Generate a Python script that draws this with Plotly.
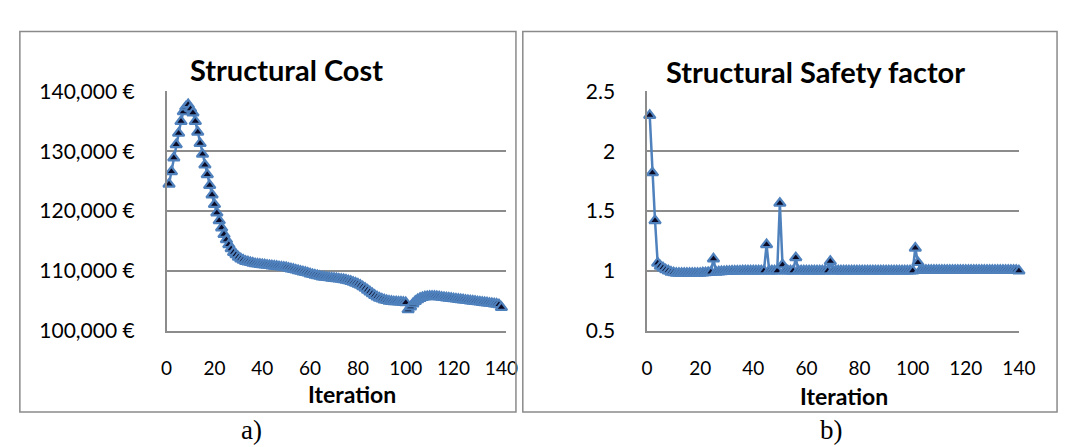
import plotly.graph_objects as go

iterations = list(range(1, 141))

cost = [
    124500, 126600, 128900, 131100, 133000, 135000, 136600, 137400, 137800, 137100,
    136400, 135000, 133200, 131300, 129500, 127700, 126100, 124300, 122700, 121100,
    119700, 118400, 117200, 116100, 115200, 114400, 113700, 113100, 112700, 112300,
    112000, 111800, 111600, 111500, 111400, 111300, 111200, 111150, 111100, 111050,
    111000, 110950, 110900, 110850, 110800, 110750, 110700, 110650, 110600, 110550,
    110450, 110350, 110250, 110150, 110050, 109950, 109850, 109750, 109650, 109500,
    109400, 109300, 109200, 109100, 109000, 108950, 108900, 108850, 108800, 108750,
    108700, 108650, 108600, 108550, 108450, 108350, 108250, 108100, 107950, 107800,
    107600, 107350, 107100, 106800, 106500, 106200, 105900, 105650, 105450, 105300,
    105150, 105050, 104950, 104900, 104850, 104850, 104800, 104800, 104750, 104700,
    103500, 104000, 104500, 104900, 105200, 105400, 105550, 105650, 105700, 105750,
    105750, 105750, 105700, 105650, 105600, 105550, 105500, 105450, 105400, 105350,
    105300, 105250, 105200, 105150, 105100, 105050, 105000, 104950, 104900, 104850,
    104800, 104750, 104700, 104650, 104600, 104550, 104500, 104450, 104350, 103900,
]

safety = [
    2.30, 1.82, 1.42, 1.065, 1.04, 1.025, 1.01, 1.0, 0.99, 0.985,
    0.98, 0.98, 0.98, 0.98, 0.98, 0.98, 0.98, 0.98, 0.98, 0.98,
    0.983, 0.985, 0.987, 0.99, 1.10, 0.99, 0.992, 0.994, 0.995, 0.996,
    0.997, 0.998, 0.998, 0.999, 0.999, 1.0, 1.0, 1.0, 1.0, 1.0,
    1.0, 1.0, 1.0, 1.0, 1.22, 1.0, 1.0, 1.0, 1.0, 1.565,
    1.05, 1.0, 1.0, 1.0, 1.0, 1.11, 1.0, 1.0, 1.0, 1.0,
    1.0, 1.0, 1.0, 1.0, 1.0, 1.0, 1.0, 1.0, 1.08, 1.0,
    1.0, 1.0, 1.0, 1.0, 1.0, 1.0, 1.0, 1.0, 1.0, 1.0,
    1.0, 1.0, 1.0, 1.0, 1.0, 1.0, 1.0, 1.0, 1.0, 1.0,
    1.0, 1.0, 1.0, 1.0, 1.0, 1.0, 1.0, 1.0, 1.0, 1.0,
    1.19, 1.07, 1.005, 1.005, 1.005, 1.005, 1.005, 1.005, 1.005, 1.005,
    1.005, 1.005, 1.005, 1.005, 1.005, 1.005, 1.005, 1.005, 1.005, 1.005,
    1.005, 1.005, 1.005, 1.005, 1.005, 1.005, 1.005, 1.005, 1.005, 1.005,
    1.005, 1.005, 1.005, 1.005, 1.005, 1.005, 1.005, 1.005, 1.005, 1.0,
]

x_ticks = [0, 20, 40, 60, 80, 100, 120, 140]
cost_ticks = [100000, 110000, 120000, 130000, 140000]
cost_tick_text = ["100,000 €", "110,000 €", "120,000 €", "130,000 €", "140,000 €"]
safety_ticks = [0.5, 1, 1.5, 2, 2.5]
safety_tick_text = ["0.5", "1", "1.5", "2", "2.5"]

W, H = 1068, 447
FONT = "Lato"
GRID = "#8c8c8c"
BLUE = "#4F81BD"

def px(x):
    return x / W

def py(y):
    return 1 - y / H

fig = go.Figure()

marker = dict(symbol="triangle-up", size=10, color="#0b0b26",
              line=dict(color=BLUE, width=2.2))

fig.add_trace(go.Scatter(x=iterations, y=cost, mode="lines+markers",
                         line=dict(color=BLUE, width=2.5), marker=marker,
                         xaxis="x", yaxis="y", cliponaxis=False, showlegend=False))
fig.add_trace(go.Scatter(x=iterations, y=safety, mode="lines+markers",
                         line=dict(color=BLUE, width=2.5), marker=marker,
                         xaxis="x2", yaxis="y2", cliponaxis=False, showlegend=False))

ydom = [py(327), py(73.5)]
common_x = dict(tickvals=x_ticks, showgrid=False, zeroline=False,
                showline=True, linecolor=GRID, linewidth=1.5, ticks="",
                tickfont=dict(family=FONT, size=19, color="black"),
                ticklabelstandoff=20)
common_y = dict(showgrid=True, gridcolor=GRID, gridwidth=1.5, zeroline=False,
                showline=True, linecolor=GRID, linewidth=1.5, ticks="",
                tickfont=dict(family=FONT, size=21, color="black"),
                ticklabelstandoff=26)

fig.update_layout(
    width=W, height=H,
    margin=dict(l=0, r=0, t=0, b=0),
    paper_bgcolor="white", plot_bgcolor="white",
    xaxis=dict(domain=[px(156), px(503)], anchor="y", range=[0, 142], **common_x),
    yaxis=dict(domain=ydom, anchor="x", range=[100000, 140000], tickvals=cost_ticks,
               ticktext=cost_tick_text, **common_y),
    xaxis2=dict(domain=[px(647), px(1027)], anchor="y2", range=[0, 140], **common_x),
    yaxis2=dict(domain=ydom, anchor="x2", range=[0.5, 2.5], tickvals=safety_ticks,
                ticktext=safety_tick_text, **common_y),
)

frame = dict(type="rect", xref="paper", yref="paper",
             line=dict(color="#8a8a8a", width=1.5), fillcolor="rgba(0,0,0,0)")
fig.add_shape(x0=px(6), x1=px(513), y0=py(413), y1=py(10), **frame)
fig.add_shape(x0=px(520), x1=px(1066), y0=py(413), y1=py(10), **frame)

def ann(text, x, y, size, bold=False, family=FONT):
    fig.add_annotation(text=f"<b>{text}</b>" if bold else text, x=px(x), y=py(y),
                       xref="paper", yref="paper", showarrow=False,
                       xanchor="center", yanchor="middle",
                       font=dict(family=family, size=size, color="black"))

ann("Structural Cost", 278, 50, 29, bold=True)
ann("Structural Safety factor", 819, 52, 29, bold=True)
ann("Iteration", 345, 394, 23, bold=True)
ann("Iteration", 848, 396, 23, bold=True)
ann("a)", 243, 432, 27, family="Liberation Serif")
ann("b)", 835, 432, 27, family="Liberation Serif")

fig.write_html("out.html")
